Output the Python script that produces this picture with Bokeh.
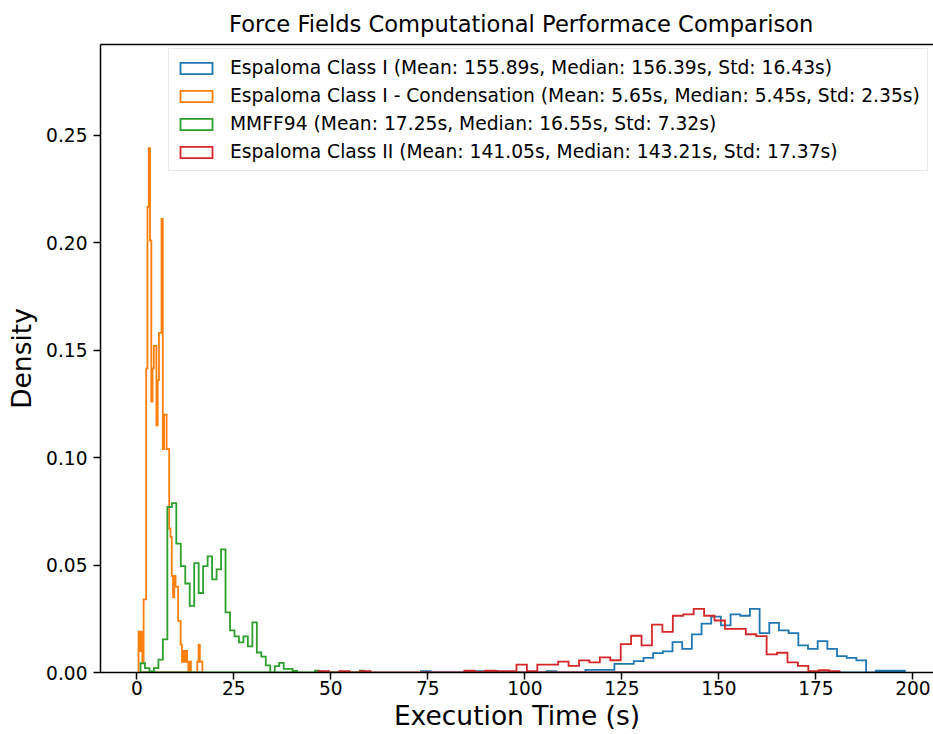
import numpy as np
from bokeh.plotting import figure
from bokeh.models import (LinearAxis, FixedTicker, Legend, LegendItem, Title,
                          NumeralTickFormatter, Range1d)
from bokeh.embed import file_html
from bokeh.resources import INLINE

# ---------------- data ----------------
title_text = "Force Fields Computational Performace Comparison"
x_label = "Execution Time (s)"
y_label = "Density"
x_ticks = [0, 25, 50, 75, 100, 125, 150, 175, 200]
y_ticks = [0.0, 0.05, 0.10, 0.15, 0.20, 0.25]

series_names = [
    "Espaloma Class I (Mean: 155.89s, Median: 156.39s, Std: 16.43s)",
    "Espaloma Class I - Condensation (Mean: 5.65s, Median: 5.45s, Std: 2.35s)",
    "MMFF94 (Mean: 17.25s, Median: 16.55s, Std: 7.32s)",
    "Espaloma Class II (Mean: 141.05s, Median: 143.21s, Std: 17.37s)",
]
colors = ["#1f77b4", "#ff7f0e", "#2ca02c", "#d62728"]

# bin range (first edge, last edge) and density per bin (50 bins each)
class1_range = (73.2, 197.9)
class1_density = [
    0.0006, 0, 0, 0, 0, 0.0006, 0.0006, 0.0006, 0, 0,
    0, 0, 0, 0.0006, 0, 0, 0, 0.0012, 0.0012, 0.0012,
    0.004, 0.004, 0.0053, 0.0068, 0.009, 0.0098, 0.0141, 0.011, 0.0177, 0.0227,
    0.026, 0.0219, 0.027, 0.0264, 0.0296, 0.0183, 0.0231, 0.0196, 0.0183, 0.0126,
    0.011, 0.0146, 0.011, 0.0076, 0.0068, 0.0056, 0, 0.0009, 0.0009, 0.0009,
]

cond_range = (0.44, 16.9)
cond_density = [
    0.019, 0.010, 0.019, 0.005, 0.034, 0.034, 0.1415, 0.2166, 0.244, 0.201,
    0.126, 0.1415, 0.152, 0.152, 0.115, 0.136, 0.158, 0.158, 0.211, 0.104,
    0.120, 0.120, 0.104, 0.104, 0.067, 0.063, 0.045, 0.035, 0.045, 0.040,
    0.040, 0.024, 0.024, 0.013, 0.005, 0.010, 0.005, 0.010, 0.005, 0.0,
    0.005, 0.0, 0.0, 0.0, 0.0, 0.0, 0.005, 0.013, 0.005, 0.005,
]

mmff_range = (0.95, 58.6)
mmff_density = [
    0.0043, 0.002, 0.0005, 0.002, 0.006, 0.0154, 0.077, 0.0788, 0.060, 0.0495,
    0.0414, 0.031, 0.0509, 0.037, 0.0495, 0.054, 0.0433, 0.048, 0.0573, 0.028,
    0.0196, 0.0168, 0.014, 0.0168, 0.0122, 0.0233, 0.0093, 0.0074, 0.0033, 0.0,
    0.003, 0.0045, 0.0017, 0.0017, 0.0007, 0.0, 0.0, 0.0, 0.0, 0.0009,
    0.0, 0.0, 0.0, 0.0, 0.0, 0.0, 0.0, 0.0, 0.0, 0.0009,
]

class2_range = (46.8, 181.1)
class2_density = [
    0.0006, 0, 0.0006, 0, 0.0006, 0, 0, 0, 0, 0,
    0, 0, 0, 0, 0.0009, 0.0003, 0.0009, 0.0006, 0.0006, 0.0037,
    0.0006, 0.0037, 0.0037, 0.0051, 0.0031, 0.0056, 0.0047, 0.007, 0.0057, 0.0132,
    0.0171, 0.0126, 0.0223, 0.0189, 0.0264, 0.027, 0.0296, 0.0264, 0.0242, 0.0203,
    0.0203, 0.0178, 0.0169, 0.0084, 0.0092, 0.0047, 0.0031, 0.0006, 0.0011, 0.0006,
]

ranges = [class1_range, cond_range, mmff_range, class2_range]
densities = [class1_density, cond_density, mmff_density, class2_density]


def step_outline(rng, dens):
    d = np.asarray(dens, dtype=float)
    edges = np.linspace(rng[0], rng[1], len(d) + 1)
    xs = np.repeat(edges, 2)
    ys = np.concatenate([[0.0], np.repeat(d, 2), [0.0]])
    return xs, ys


FONT = "DejaVu Sans"

p = figure(width=933, height=734, output_backend="svg", toolbar_location=None,
           x_range=Range1d(-9.36, 205.3), y_range=Range1d(0, 0.2922),
           min_border_left=100, min_border_right=0, min_border_top=44,
           min_border_bottom=62, outline_line_color=None,
           background_fill_color="white", border_fill_color="white")
p.grid.visible = False

for ax in (p.xaxis[0], p.yaxis[0]):
    ax.axis_line_width = 1.5
    ax.major_tick_line_width = 1.5
    ax.major_tick_out = 7
    ax.major_tick_in = 0
    ax.minor_tick_line_color = None
    ax.major_label_text_font = FONT
    ax.major_label_text_font_size = "18.6px"
    ax.major_label_text_color = "black"
    ax.axis_label_text_font = FONT
    ax.axis_label_text_font_size = "26.5px"
    ax.axis_label_text_font_style = "normal"
    ax.axis_label_text_color = "black"

p.xaxis[0].ticker = FixedTicker(ticks=x_ticks)
p.yaxis[0].ticker = FixedTicker(ticks=y_ticks)
p.yaxis[0].formatter = NumeralTickFormatter(format="0.00")
p.xaxis[0].axis_label = x_label
p.yaxis[0].axis_label = y_label
p.xaxis[0].major_label_standoff = 1
p.xaxis[0].axis_label_standoff = 2
p.yaxis[0].major_label_standoff = 6
p.yaxis[0].axis_label_standoff = 6

# top spine
top = LinearAxis(ticker=FixedTicker(ticks=[]), axis_line_width=1.5,
                 major_tick_line_color=None, minor_tick_line_color=None,
                 major_label_text_font_size="0px")
p.add_layout(top, "above")
p.add_layout(Title(text=title_text, text_font=FONT, text_font_size="22.6px",
                   text_font_style="normal", text_color="black",
                   align="left", offset=128.6, standoff=15), "above")

items = []
for name, color, rng, dens in zip(series_names, colors, ranges, densities):
    xs, ys = step_outline(rng, dens)
    r = p.patch(xs, ys, fill_color=None, line_color=color, line_width=1.8,
                line_join="miter")
    items.append(LegendItem(label=name, renderers=[r]))

legend = Legend(items=items, location=(68, 501),
                label_text_font=FONT, label_text_font_size="18.7px",
                label_text_color="black", label_height=21, glyph_width=40,
                glyph_height=14, label_standoff=14, spacing=7,
                padding=dict(x=7, y=8),
                border_line_color="#d4d4d4", border_line_width=1.5,
                background_fill_color="white", background_fill_alpha=0.8)
p.add_layout(legend, "center")

open("out.html", "w").write(file_html(p, INLINE))
